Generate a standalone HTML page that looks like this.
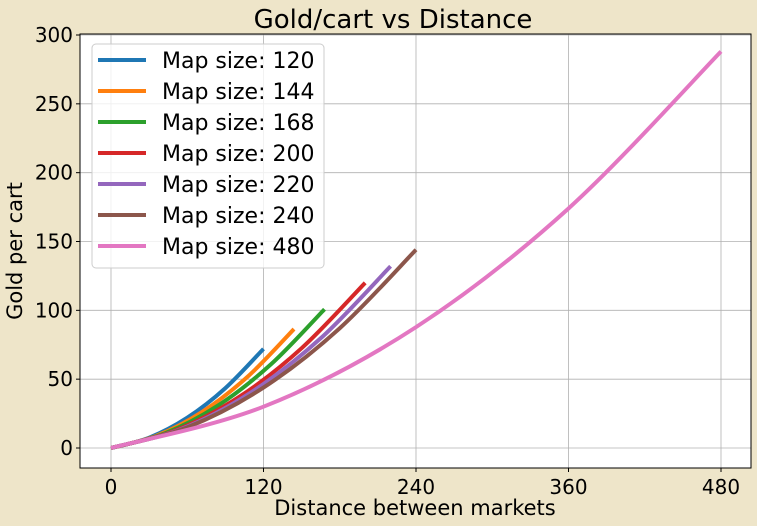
<!DOCTYPE html>
<html><head><meta charset="utf-8"><style>
body{margin:0;background:#eee5c9;}
svg{display:block;font-family:"DejaVu Sans","Liberation Sans",sans-serif;}
</style></head><body>
<svg id="chart" width="757" height="526">
<rect width="757" height="526" fill="#eee5c9"/>
<rect x="80" y="34" width="671" height="434" fill="#fff"/>
<g id="grid"></g><g id="series"></g>
<rect x="80" y="34" width="671" height="434" fill="none" stroke="#000" stroke-width="1"/>
<g id="ticks"></g>
<text x="393" y="28" font-size="26" text-anchor="middle">Gold/cart vs Distance</text>
<text x="415" y="515" font-size="21" text-anchor="middle">Distance between markets</text>
<text transform="translate(22,251) rotate(-90)" font-size="21" text-anchor="middle">Gold per cart</text>
<g id="legend"></g>
</svg>
<script>
const mapSizes=[120,144,168,200,220,240,480];
const colors=["#1f77b4","#ff7f0e","#2ca02c","#d62728","#9467bd","#8c564b","#e377c2"];
const fractions=[0,0.25,0.5,0.75,1];
const s120=[0,7.5,22,43.5,72];
const s144=[0,9,26.4,52.2,86.4];
const s168=[0,10.5,30.7,60.9,100.8];
const s200=[0,12.5,36.6,72.5,120];
const s220=[0,13.7,40.3,79.7,132];
const s240=[0,15,43.9,87,144];
const s480=[0,30,87.8,174,288];
const seriesValues=[s120,s144,s168,s200,s220,s240,s480];
const xTicks=[0,120,240,360,480];
const yTicks=[0,50,100,150,200,250,300];
const NS="http://www.w3.org/2000/svg";
const X=v=>111+v*(721-111)/480;
const Y=v=>448-v*(448-35)/300;
function mk(t,a,p){const e=document.createElementNS(NS,t);for(const k in a)e.setAttribute(k,a[k]);p.appendChild(e);return e;}
const grid=document.getElementById('grid'),ticks=document.getElementById('ticks');
xTicks.forEach(v=>{
 const g=mk('line',{x1:X(v),x2:X(v),y1:34,y2:468,stroke:'#b0b0b0','stroke-width':0.8},grid);
 
 mk('line',{x1:X(v),x2:X(v),y1:468,y2:472,stroke:'#000'},ticks);
 const t=mk('text',{x:X(v),y:494,'font-size':20,'text-anchor':'middle'},ticks);t.textContent=v;
 
});
yTicks.forEach(v=>{
 const g=mk('line',{x1:80,x2:751,y1:Y(v),y2:Y(v),stroke:'#b0b0b0','stroke-width':0.8},grid);
 
 mk('line',{x1:76,x2:80,y1:Y(v),y2:Y(v),stroke:'#000'},ticks);
 const t=mk('text',{x:73,y:Y(v)+7,'font-size':20,'text-anchor':'end'},ticks);t.textContent=v;
 
});
const sg=document.getElementById('series');
seriesValues.forEach((vals,i)=>{
 const pts=vals.map((v,j)=>[X(fractions[j]*mapSizes[i]),Y(v)]);
 let d=`M${pts[0][0]},${pts[0][1]}`;
 for(let k=0;k<pts.length-1;k++){
  const p0=pts[k-1]||pts[k],p1=pts[k],p2=pts[k+1],p3=pts[k+2]||p2;
  const c1=[p1[0]+(p2[0]-p0[0])/6,p1[1]+(p2[1]-p0[1])/6],c2=[p2[0]-(p3[0]-p1[0])/6,p2[1]-(p3[1]-p1[1])/6];
  d+=` C${c1[0]},${c1[1]} ${c2[0]},${c2[1]} ${p2[0]},${p2[1]}`;
 }
 const p=mk('path',{d,fill:'none',stroke:colors[i],'stroke-width':4},sg);
 
 
});
const lg=document.getElementById('legend');
const box=mk('rect',{x:92,y:44,width:232,height:224,rx:4,fill:'#fff','fill-opacity':0.8,stroke:'#ccc'},lg);


mapSizes.forEach((s,i)=>{
 const y=60+i*31;
 const g=mk('g',{},lg);
 
 
 mk('line',{x1:98,x2:146,y1:y,y2:y,stroke:colors[i],'stroke-width':4},g);
 const t=mk('text',{x:162,y:y+8,'font-size':22},g);t.textContent='Map size: '+s;
});
</script>
</body></html>
